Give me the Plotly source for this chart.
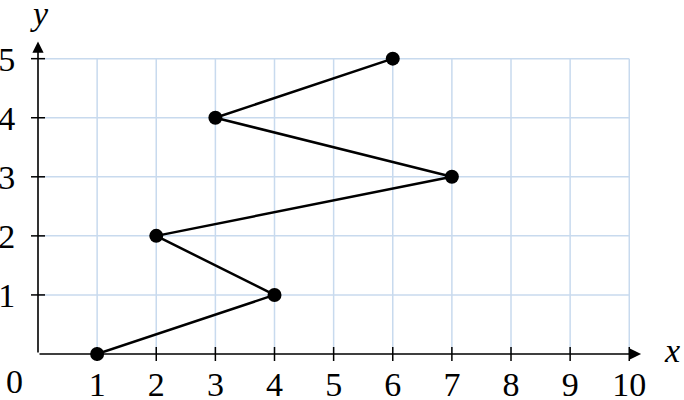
import plotly.graph_objects as go

# Data
xs = [1, 4, 2, 7, 3, 6]
ys = [0, 1, 2, 3, 4, 5]
x_ticks = [1, 2, 3, 4, 5, 6, 7, 8, 9, 10]
y_ticks = [1, 2, 3, 4, 5]
x_tick_labels = [str(v) for v in x_ticks]
y_tick_labels = [str(v) for v in y_ticks]

FONT = "Liberation Serif, Times New Roman, serif"
GRID = "rgb(200,218,238)"
FS = 34

fig = go.Figure()

# main line
fig.add_trace(go.Scatter(x=xs, y=ys, mode="lines+markers", cliponaxis=False,
                         line=dict(color="black", width=2.5),
                         marker=dict(size=14, color="black"),
                         showlegend=False))

# tick marks crossing the axes
fig.add_trace(go.Scatter(x=x_ticks, y=[0] * len(x_ticks), mode="markers", cliponaxis=False,
                         marker=dict(symbol="line-ns", size=10, color="black",
                                     line=dict(width=1.5, color="black")),
                         hoverinfo="skip", showlegend=False))
fig.add_trace(go.Scatter(x=[0] * len(y_ticks), y=y_ticks, mode="markers", cliponaxis=False,
                         marker=dict(symbol="line-ew", size=10, color="black",
                                     line=dict(width=1.5, color="black")),
                         hoverinfo="skip", showlegend=False))

# grid lines
for v in x_ticks:
    fig.add_shape(type="line", x0=v, x1=v, y0=0, y1=max(y_ticks), xref="x", yref="y",
                  line=dict(color=GRID, width=1.5), layer="below")
for v in y_ticks:
    fig.add_shape(type="line", x0=0, x1=max(x_ticks), y0=v, y1=v, xref="x", yref="y",
                  line=dict(color=GRID, width=1.5), layer="below")

# axes with arrows
fig.add_annotation(x=10.2, y=0, ax=0, ay=0, xref="x", yref="y", axref="x", ayref="y",
                   showarrow=True, arrowhead=2, arrowsize=1.4, arrowwidth=1.6,
                   arrowcolor="black", text="")
fig.add_annotation(x=0, y=5.29, ax=0, ay=0, xref="x", yref="y", axref="x", ayref="y",
                   showarrow=True, arrowhead=2, arrowsize=1.4, arrowwidth=1.6,
                   arrowcolor="black", text="")

# axis labels
fig.add_annotation(x=10.2, y=0, xref="x", yref="y", text="<i>x</i>", showarrow=False,
                   font=dict(family=FONT, size=FS, color="black"), xshift=31, yshift=4)
fig.add_annotation(x=0.03, y=5.35, xref="x", yref="y", text="<i>y</i>", showarrow=False,
                   font=dict(family=FONT, size=FS, color="black"), yanchor="bottom", yshift=4)
# origin label
fig.add_annotation(x=0, y=0, xref="x", yref="y", text="0", showarrow=False,
                   font=dict(family=FONT, size=FS, color="black"), xshift=-24, yshift=-27)

fig.update_xaxes(range=[0, 10.3], tickvals=x_ticks, ticktext=x_tick_labels, automargin=False,
                 showgrid=False, zeroline=False, showline=False,
                 ticks="outside", ticklen=0, tickcolor="rgba(0,0,0,0)",
                 tickfont=dict(family=FONT, size=FS, color="black"))
fig.update_yaxes(range=[0, 5.35], tickvals=y_ticks, ticktext=y_tick_labels, automargin=False,
                 showgrid=False, zeroline=False, showline=False,
                 ticks="outside", ticklen=15, tickcolor="rgba(0,0,0,0)",
                 tickfont=dict(family=FONT, size=FS, color="black"))

fig.update_layout(width=684, height=400, margin=dict(l=38, r=37, t=38, b=46),
                  plot_bgcolor="white", paper_bgcolor="white")

fig.write_html("out.html", config={"displayModeBar": False},
               post_script="document.body.style.margin='0';document.body.style.overflow='hidden';")
